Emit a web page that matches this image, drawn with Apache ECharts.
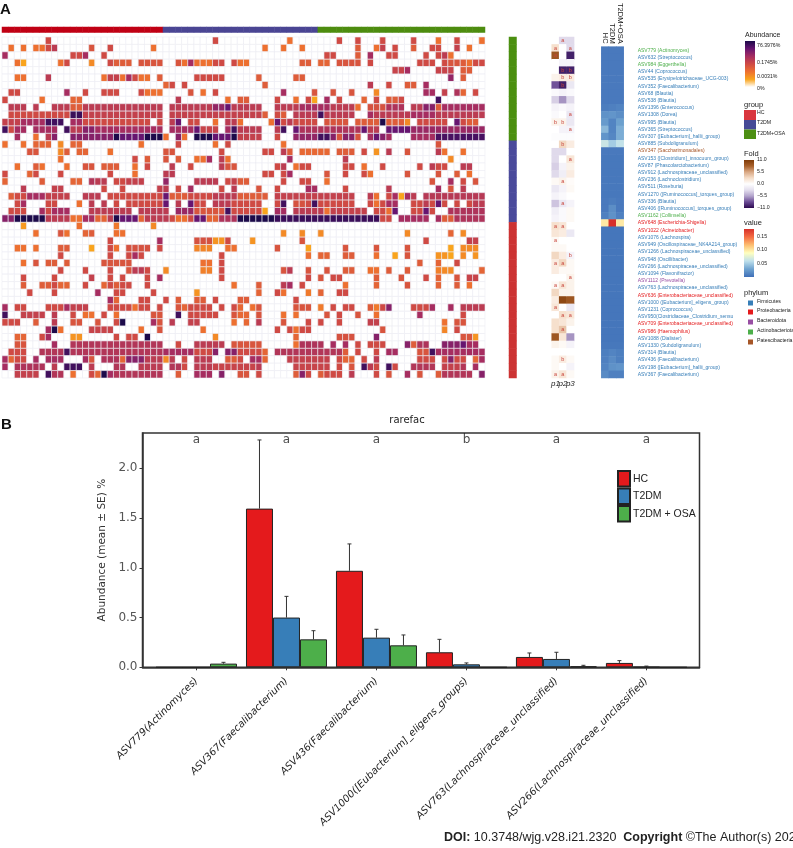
<!DOCTYPE html>
<html>
<head>
<meta charset="utf-8">
<style>
  html, body { margin: 0; padding: 0; background: #fff; }
  #chart { width: 793px; height: 848px; }
</style>
<script src="https://cdn.jsdelivr.net/npm/echarts@6/dist/echarts.min.js"></script>
</head>
<body>
<div id="chart"></div>
<script>
// panel A rows, top to bottom
const rowLabels = [
  "ASV779 (Actinomyces)", "ASV632 (Streptococcus)", "ASV984 (Eggerthella)", "ASV44 (Coprococcus)",
  "ASV535 (Erysipelotrichaceae_UCG-003)", "ASV352 (Faecalibacterium)", "ASV68 (Blautia)", "ASV538 (Blautia)",
  "ASV1396 (Enterococcus)", "ASV1308 (Dorea)", "ASV995 (Blautia)", "ASV365 (Streptococcus)",
  "ASV307 ([Eubacterium]_hallii_group)", "ASV885 (Subdoligranulum)", "ASV347 (Saccharimonadales)",
  "ASV153 ([Clostridium]_innocuum_group)", "ASV87 (Phascolarctobacterium)", "ASV912 (Lachnospiraceae_unclassified)",
  "ASV236 (Lachnoclostridium)", "ASV511 (Roseburia)", "ASV1270 ([Ruminococcus]_torques_group)", "ASV336 (Blautia)",
  "ASV406 ([Ruminococcus]_torques_group)", "ASV1162 (Collinsella)", "ASV648 (Escherichia-Shigella)",
  "ASV1022 (Acinetobacter)", "ASV1076 (Lachnospira)", "ASV949 (Oscillospiraceae_NK4A214_group)",
  "ASV1266 (Lachnospiraceae_unclassified)", "ASV948 (Oscillibacter)", "ASV266 (Lachnospiraceae_unclassified)",
  "ASV1094 (Flavonifractor)", "ASV1112 (Prevotella)", "ASV763 (Lachnospiraceae_unclassified)",
  "ASV636 (Enterobacteriaceae_unclassified)", "ASV1000 ([Eubacterium]_eligens_group)", "ASV1231 (Coprococcus)",
  "ASV950(Clostridiaceae_Clostridium_sensu", "ASV709 (Enterobacteriaceae_unclassified)", "ASV986 (Haemophilus)",
  "ASV1088 (Dialister)", "ASV1330 (Subdoligranulum)", "ASV314 (Blautia)", "ASV436 (Faecalibacterium)",
  "ASV198 ([Eubacterium]_hallii_group)", "ASV367 (Faecalibacterium)"
];
// index into phylumNames for each row
const rowPhylum = [3,0,3,0,0,0,0,0,0,0,0,0,0,0,4,0,0,0,0,0,0,0,0,3,1,1,0,0,0,0,0,0,2,0,1,0,0,0,1,1,0,0,0,0,0,0];
const phylumNames = ["Firmicutes", "Proteobacteria", "Bacteroidota", "Actinobacteriota", "Patescibacteria"];
const phylumColors = ["#377eb8", "#e41a1c", "#984ea3", "#4daf4a", "#a65628"];

const groupNames = ["HC", "T2DM", "T2DM+OSA"];
const columnGroupSizes = [26, 25, 27];
// side strip goes top to bottom: T2DM+OSA, T2DM, HC
const rowGroupSizes = [14, 11, 21];

// abundance per sample, "col:level" or "from-to:level", level 1 (low) .. 6 (high)
const abundanceRows = [
  "7:3 34:3 46:2 54:3 57:3 61:3 66:3 70:2 73:3 77:2",
  "1:2 3:2 5-6:2 7:3 8:3.5 14:2.7 17:3 24:2 42:2 45:2 48:2 57:2.5 60:2 61:3.3 63:3 66:2.5 69:3 70:3 73:3.3 75:2",
  "0:4 11-12:3 13:4 16:3 52-53:3 57:2.5 59:4 62-63:3 68:3 70:3 71:3.5 72:2",
  "2:2 3:1 9:2 10:3 14:1.5 17:3 18-20:2.5 22-25:2.7 28:2.7 29:2 30:4 31-33:2 34-35:3 37:3 38-39:2 48-49:2.5 51-52:2.3 54-57:2.7 59:3 67-69:3 71:3 72-73:2.7 74:2.5 75:2 76-77:3",
  "63-64:3.2 65:4 70-72:3.2 74-75:2.5",
  "2-3:2 7:3.5 16:2 17-18:3.3 19:2 20:4 21:3 22-23:2 25:2.5 31-35:3 41:2.5 47-48:2.5 72:4.3 74:2.5",
  "26:2.3 27:3 29:3 42:2.5 59:3.5 62:3 65-66:2.5 68:4",
  "1-2:3 10:4 13:3 16-18:3 22:3 23:2 24:2 25:2 30:2.7 32:2 34:3 45:4 50:2.7 53:2.7 56:2.7 60:1.5 68-69:4 71:3.3 73:3.8 74:2.3 76:3",
  "0:3 6:2 11-12:2.3 28:3.5 36:2 38-39:2.5 44:3 47:2 49:3 50:1 52:4 54:3 58:2.3 60:3 62-63:2.5 64:3 70:5.5",
  "1-3:3.5 5:3.5 8-10:3.5 11-12:2.5 13-25:3.5 27-33:3.5 34-35:4.3 36:5 37-41:3.5 44-47:3.5 48-52:4 53-56:3.5 57:2 59-61:2.8 62-64:3.8 66-67:3.5 68-69:4.5 70:2.5 71-77:4",
  "1-10:3 11-12:5.6 13-25:3.3 27-41:3.3 42:2.5 44:3 45:2.5 47-50:3.5 51:5.5 52-56:3.5 59:4 60-65:3.5 66-69:4 70-77:3.5",
  "0-2:3.3 3-6:4 7-9:5.5 11-12:4 13-23:3 25:3 27:3.5 28:5 30-31:3 34:2 36-37:3.5 38:2 43:2 44:5 45:3 46:3.5 47-50:3 52-55:2.7 57-60:2.5 61:6 62-64:2.5 65:1.5 67-71:3 73:5 74:3 75-76:2.5",
  "0:5.5 1:3 2-3:4 5-8:4 10:5.5 11-12:3.5 13-14:4.5 15-25:4 27-30:4 31:5 32-34:3.2 36:4 37:5.5 38-41:3.5 44:3.5 45:5.5 47:5 48-57:3.8 58:5 59-60:3.5 62-65:5 66-77:4.2",
  "2:4 5:2 7:3.5 8:4.5 11-17:4.5 18:6 19-22:5 23-25:6 26:2 28:4.5 29:2 31-33:6 34-36:5 37:6 38-41:3.3 44:3 47-50:4.3 51-52:5.5 53:4.5 54:2.7 55-56:4.5 57:2.7 59:4 60:5 61:4.5 62:4 66-69:4 70-77:5.4",
  "0:2 3:2 5-7:2.3 9:1.5 11-12:2.3 22:2 28:3 34:2 36:3 45:2 70:2.7",
  "4-5:2.7 9:1.5 10:2.5 12-13:2.3 17:2 26-27:2.7 35:3 42-43:3 45:3.5 46:2.5 48-52:2.2 54-56:2.5 58:3 60:1.3 62:3.5 65:2.7 70:3.5 71:2 74:2",
  "9:2 21:3 23:2.5 26:2.7 28:2.5 31-32:2 33:4 35:3.5 36:2 46:4 55:3.5 72:1.5",
  "2:2 5:2.5 6:2 10:2 13-14:2.7 16-18:2.5 21:2 23:3 27:3.5 30:3 35:3.5 36-37:2.7 44:3 45:3.5 47:2 48-49:3 55-56:3 58:2 61:3 67:3 69:3.5 70-71:3 74-75:3.5",
  "0:3 4:2.3 5:3 9:3 17:3 21:2 26-27:3.5 42-43:3 45:3 46:4 52:2.7 55:3 58:3 59:2 65:2.7 70:2.7 73:2.5 75:2",
  "0:2.3 6:2.5 11-12:2.3 14:3.7 15-16:3.5 18-19:3 20-22:3.3 26:4.3 31-34:3.5 36:3 37:3.3 38-39:2.5 45:3 48-49:3 52:2 69:2.7 72:4 74:3 76:2.7",
  "3:3.5 8-9:3.3 16:3 19:3 25:3.3 26:3.5 28:3 30:4 35:3 37:3.5 41:2.7 44:3 49-50:4 55:3 62:3.5 70:4 72:2.7 74:3.5",
  "1:2.5 2-3:3 4-6:4 7-10:3.3 13-15:3.5 17-25:3 26:5 27-29:2.5 30-33:3 34-37:3.5 38-42:2.5 44-56:3.3 59:3.5 60:2 62:3 63:4 64:1 65:4 66:3.5 68-77:3.6",
  "2:3 3:4 7-8:3 12:2 14:3.5 16:3.5 18:3 20-25:3 26:5 28:3.5 30:5 31-32:3 34-36:3.5 37-41:3 44:3 45:5.5 47-48:2.8 49:3 50:5.5 51-54:3 55-56:3 59:3 60:2 61:3 62-63:4 66-67:3 68:3.5 69:3 70:5 71:3 73:3 75:3 76-77:3.5",
  "1-3:3 6:4 7:3 8-10:4 14-20:3.5 22-26:3.5 28-30:4.2 31-35:2.7 36:5.5 37-41:3 42:1 44-45:4 47-51:3.5 52:2 53-58:3.3 60-61:3 62:2 63:5 66-67:3 68:5 69:3 72-77:3.8",
  "0-1:4.5 2-6:6 7-10:3.5 11-12:2 13-14:4 15-16:2.3 17:3.5 18:6 19-21:5 22:2.3 23-26:3.5 27:3 28-29:2 30:3 31-32:5 33-34:2.3 35-37:3.8 38-43:6 44-60:5.6 61-62:3 64-68:4 70:4 71-72:2.5 73-77:3.8",
  "3:1.2 12:2 18:1.8 24:1.5",
  "5:2 9:2.7 10:2 13:2.3 14:2.5 18-19:2 45:1.5 48:1.5 51:1.5 65:1.5 72:2.3 74:1.5",
  "17:3 25:4 31-33:2.8 34-35:1.3 36:3 40:1.3 48:2.7 68:3 75-76:3.3",
  "2-3:2 5:2 9-10:2.5 14:1 17:3 18:2 20-23:2.8 25:3 31-33:1.6 36-37:2 44:2.7 49:1 55:2.7 60:2.7 65:2.7 72:1 74-75:1.5 76:1.5",
  "9:3 17:3 20:3 21:4 22:3 35:3 49:2 51-52:2.3 55-56:2.5 60:2 63:1 65:2.7 70-71:1.3 72:1 74:1.5 76:1.3",
  "3:2 5:2.7 7-8:2.5 10:2.5 16-20:2.7 32-33:2 35:3 67:2.5 70:2.3 73:3",
  "9:3 13:3 17:3 20:2.7 21-22:3.5 23:3 26:1.5 32-33:1.7 35:3 45:2.7 46:3.5 49:2.7 52:2.7 55-56:2.5 59-60:2 62:2.5 65:2.5 70:1.7 71-72:1.5 77:2.3",
  "3:3 8:3 14:3.3 17:3 19:3 23:3 25:4 35:3 49:3 51:2.7 53-54:3 60:2.5 64:2.7 68:3 70:2.3 73:2.7 75-76:3.2",
  "3:2.5 6-7:2.5 8:3 9-10:2.3 13:3 16:2.3 17:3 18:2.5 19-20:3 23:3 37:2 41:2.5 45:3.5 46:4 48:3 55:2 60:2.3 65:2.7 70:2.3 73:2.5 75:2",
  "4:3 8:3 15:4 18-19:3 24:3 31:1.3 41:2.3 44:3 45:2 49:1.8 51:2.3 54-55:3",
  "17:4 18:2.3 22-23:3 26:3 28:2.5 31-32:2.5 34:3 38-39:2.5 47:3",
  "0:4 2-3:3 7-9:3 10:4 11-13:3.3 17-20:3 21:2 22-23:3 25:3 28:2.7 29:2.3 30-33:3 35:3 37:3 38:2.2 40:2 41:2.7 47-49:2.7 51:1.8 53:3 55-56:3 59:2.5 60:1.8 61:3 62:4.5 66-68:3 69:4 72:4 74-77:3.5",
  "0:5.5 3-6:3.3 8:3.5 11:3 13-14:2 16:3 18:2 24-25:2.7 28:5.5 30-34:3 37:2.7 38-39:2.2 41:2.7 45:2 47:2 52:2.7 54:3 57:2.7 60:2 67:4 74:3",
  "0-2:3 5:2.5 8:3.5 11-12:2.7 15:2.7 18:3 19:6 24:4 25:2.7 27:3.5 30-31:3.3 37:2 39:2.2 41:3.5 45:2.7 49:3 51:3 54:3 59-60:3.3 71:2 73-74:2.7",
  "7:4 8:6 9:2 14-17:3.2 22:2 25:2.7 32:2 44:3 46:3 47:2 48-49:3 61:2.7 71:1.6 73:3",
  "2-3:2.3 6:3 7:4 11-12:1.3 18:3 20-21:3 23:6 34:1.5 47:2.3 54-56:2.8 60:4.5 74-75:2.7 76:1.3",
  "2-3:2.7 8:4 11-25:3.7 28:3 31-35:3.5 37-41:2.7 47:2 48-51:3.8 53:4 55:4 57:3 59-61:3 65:4.5 66:2.5 67-68:3.8 71-73:4.5 74:5 75-76:4",
  "1-3:3 6-9:3.7 10:5.5 11-25:3.7 26-30:4 31-33:3 34:4.5 36-37:4.5 38-41:3 42:2.3 44-53:3.7 54:3.7 55:2.5 57:3 60:3 62-63:4 67-68:2.7 69:5.5 70-77:4",
  "0:4 1:2.3 2-3:3 5:4 7-9:4 13:4 14:2.7 16-18:3.8 19:2.3 20-22:4.5 23-25:3.5 26:1.5 27:3.5 29:3 31-33:3.5 36-37:2.5 38:3 40-41:4 42:2.3 46-52:3.3 54:3 55-56:2.3 58:3 60:3.5 67-69:3 71:3 72:4.5 73-74:3 76:2.3 77:4",
  "0:4 2-6:3.8 8:3.5 10-12:5.5 14:3.5 18-19:3.7 22-25:3.5 27-28:3.7 29:3 31-33:3.5 34-40:3.2 41:3.5 47-52:3.2 54:3 56:2.7 58:5.5 59:3.5 60:3 62:5.5 63:3 66-69:3.7 71-73:3.3 74:3.7 76:4",
  "2-5:3.3 7:5.5 8-9:3.7 11:2 14:3 15:2.3 16:6 17:4 18-25:3.7 28:2.5 31-33:4 35:4.5 38-39:2.7 41:3 47:2.5 48:4.5 49:3 51:2.5 52-53:3 54:3 56:3.5 60:3 62:2.7 65:4 67:2.7 70:2.5 71-75:3.7 77:4.5"
];

// fold change of the three pair tests, read per row
const foldP1 = [0,2.5,9,0,0,1,-8,-0.5,-3.5,-1,-0.5,1,0,-0.3,0,-3,-3,-3.5,-3,0.5,-2,-1,-4,-1.5,-1,2.5,2,0.5,0.5,3,1.5,1.5,0,0.5,3,1.5,2,0,2.5,2.5,9,1,0,0.5,0.5,1];
const foldP2 = [-3,0,0,-1,-10,1.5,-10,-1,-6,-0.5,0,1,-1,-0.3,3,-3,0,-1,-1.5,1,-1,-0.5,-2,-0.5,-0.5,2,1.5,0,0.5,1.5,3,0.5,0,2,1,10,0,2.5,2,4,2,0.5,0,1.5,0,2];
const foldP3 = [-3,-3,-10,-1,-10,1.5,-2,-0.5,-3,-1,-2,-2,-1,-0.3,1.5,0,2,1,1.5,0.3,0.5,0,-1,0.5,0.5,0,-2,0,0,-1,0.5,0.5,1,1,1,9,-2,2,1,0,-6,-1,0,0.5,-1,0.5];
const foldLettersP1 = {1:"a",2:"a",11:"b",25:"a",27:"a",30:"a",33:"a",36:"a",45:"a"};
const foldLettersP2 = {0:"a",4:"b",5:"b",6:"b",11:"b",14:"b",19:"a",22:"a",25:"a",30:"a",33:"a",37:"a",39:"a",43:"b",45:"a"};
const foldLettersP3 = {1:"a",4:"b",5:"b",10:"a",12:"a",16:"a",29:"b",32:"a",37:"a"};

// mean values per group
const valueHC = [.006,.006,.006,.006,.006,.006,.006,.006,.008,.02,.025,.04,.022,.065,.006,.005,.005,.005,.005,.005,.005,.006,.006,.01,.1,.004,.004,.004,.004,.004,.004,.004,.004,.004,.004,.004,.004,.004,.004,.004,.004,.005,.009,.01,.012,.016];
const valueT2DM = [.006,.006,.006,.006,.006,.006,.006,.006,.01,.022,.012,.012,.014,.05,.006,.005,.005,.005,.005,.005,.005,.008,.018,.02,.18,.004,.004,.004,.004,.004,.004,.004,.004,.004,.004,.004,.004,.004,.004,.004,.004,.005,.012,.016,.02,.01];
const valueOSA = [.006,.006,.006,.006,.006,.006,.006,.006,.012,.018,.028,.035,.035,.062,.006,.005,.005,.005,.005,.005,.005,.006,.006,.01,.1,.004,.004,.004,.004,.004,.004,.004,.004,.004,.004,.004,.004,.004,.004,.004,.004,.005,.009,.009,.022,.01];
const valueColumns = ["HC", "T2DM", "T2DM+OSA"];

// panel B
const barCategories = [
  "ASV779(Actinomyces)", "ASV367(Faecalibacterium)", "ASV436(Faecalibacterium)",
  "ASV1000([Eubacterium]_eligens_groups)", "ASV763(Lachnospiraceae_unclassified)", "ASV266(Lachnospiraceae_unclassified)"
];
const barLetters = ["a", "a", "a", "b", "a", "a"];
const meanHC = [0, 1.595, 0.97, 0.151, 0.104, 0.044];
const meanT2DM = [0, 0.5, 0.298, 0.03, 0.084, 0.004];
const meanOSA = [0.037, 0.281, 0.221, 0, 0.01, 0];
const errTopHC = [0, 2.285, 1.24, 0.281, 0.144, 0.067];
const errTopT2DM = [0, 0.713, 0.382, 0.044, 0.151, 0.012];
const errTopOSA = [0.05, 0.368, 0.325, 0, 0.02, 0];

const abundanceColors = ["#ffffff", "#f9a41c", "#ed7030", "#cf4a44", "#a62d60", "#661570", "#1c0a4a"];
const foldColors = ["#2d0a50", "#6a4a94", "#b3a4cc", "#e4dfee", "#ffffff", "#f5ddc8", "#d9a884", "#a8602a", "#7f3b08"];
const valueColors = ["#3f6fb8", "#6fa3d0", "#bfe0ec", "#ffffbf", "#fdbe70", "#f46d43", "#d7302a"];

const smallFont = "Liberation Sans";
const chartFont = "DejaVu Sans";

function range(n) {
  const arr = [];
  for (let i = 0; i < n; i++) arr.push(i);
  return arr;
}

// "5-7:3 9:2" -> [[5,3],[6,3],[7,3],[9,2]]
function parseRow(text) {
  const cells = [];
  text.split(" ").forEach((tok) => {
    const [cols, level] = tok.split(":");
    const [from, to] = cols.split("-").map(Number);
    for (let c = from; c <= (to === undefined ? from : to); c++) cells.push([c, Number(level)]);
  });
  return cells;
}

const colCount = columnGroupSizes.reduce((a, b) => a + b, 0);
const abundanceData = [];
abundanceRows.forEach((text, r) => {
  const levels = new Array(colCount).fill(0);
  parseRow(text).forEach(([c, l]) => { levels[c] = l; });
  levels.forEach((l, c) => abundanceData.push([c, r, l]));
});

const topStripData = [];
columnGroupSizes.forEach((size, g) => {
  for (let i = 0; i < size; i++) topStripData.push([topStripData.length, 0, g]);
});
const sideStripData = [];
rowGroupSizes.forEach((size, g) => {
  for (let i = 0; i < size; i++) sideStripData.push([0, sideStripData.length, 2 - g]);
});

const foldData = [];
[[foldP1, foldLettersP1], [foldP2, foldLettersP2], [foldP3, foldLettersP3]].forEach(([vals, letters], c) => {
  vals.forEach((v, r) => foldData.push({ value: [c, r, v], letter: letters[r] || "" }));
});

const valueData = [];
[valueHC, valueT2DM, valueOSA].forEach((vals, c) => {
  vals.forEach((v, r) => valueData.push([c, r, v]));
});

const heatTop = 37;
const heatHeight = 341;
const grids = [
  { left: 2, top: 27, width: 483, height: 5.5 },
  { left: 2, top: heatTop, width: 483, height: heatHeight },
  { left: 509, top: heatTop, width: 7.5, height: heatHeight },
  { left: 551.7, top: heatTop, width: 22.4, height: heatHeight },
  { left: 601.3, top: heatTop, width: 22.4, height: heatHeight },
  { left: 142.5, top: 433, width: 557, height: 234.3, show: true, borderColor: "#333", borderWidth: 1.5 }
];

function hiddenCat(gridIndex, data, inverse) {
  return {
    type: "category", gridIndex, data, inverse: !!inverse,
    axisLine: { show: false, onZero: false }, axisTick: { show: false }, axisLabel: { show: false }, splitLine: { show: false }
  };
}

const xAxes = [
  hiddenCat(0, range(colCount)),
  hiddenCat(1, range(colCount)),
  hiddenCat(2, ["g"]),
  Object.assign(hiddenCat(3, ["p1", "p2", "p3"]), {
    axisLabel: { show: true, interval: 0, margin: 2, fontSize: 8, fontStyle: "italic", color: "#222", fontFamily: smallFont }
  }),
  Object.assign(hiddenCat(4, valueColumns), {
    position: "top",
    axisLabel: { show: true, interval: 0, rotate: 90, margin: 3, fontSize: 7.5, color: "#222", fontFamily: smallFont }
  }),
  {
    type: "value", gridIndex: 5, min: -0.6, max: 5.59,
    splitLine: { show: false },
    axisLine: { onZero: false, lineStyle: { color: "#333", width: 1.5 } },
    axisTick: { customValues: [0, 1, 2, 3, 4, 5], length: 3, lineStyle: { color: "#333" } },
    axisLabel: {
      customValues: [0, 1, 2, 3, 4, 5], rotate: 45, margin: 12, fontSize: 10, fontStyle: "italic",
      color: "#222", fontFamily: chartFont, formatter: (v) => barCategories[v]
    }
  }
];

const yAxes = [
  hiddenCat(0, ["g"]),
  hiddenCat(1, rowLabels, true),
  hiddenCat(2, rowLabels, true),
  hiddenCat(3, rowLabels, true),
  Object.assign(hiddenCat(4, rowLabels, true), {
    position: "right",
    axisLabel: {
      show: true, interval: 0, margin: 14, fontSize: 5, fontFamily: smallFont, align: "left",
      color: (v, i) => phylumColors[rowPhylum[i]]
    }
  }),
  {
    type: "value", gridIndex: 5, min: 0, max: 2.355,
    name: "Abundance (mean ± SE) %", nameLocation: "middle", nameGap: 35,
    nameTextStyle: { fontSize: 10.5, color: "#333", fontFamily: chartFont },
    splitLine: { show: false },
    axisLine: { show: true, onZero: false, lineStyle: { color: "#333", width: 1.5 } },
    axisTick: { customValues: [0, 0.5, 1, 1.5, 2], length: 3, lineStyle: { color: "#333" } },
    axisLabel: {
      customValues: [0, 0.5, 1, 1.5, 2], margin: 5, fontSize: 12, color: "#555", fontFamily: chartFont,
      formatter: (v) => v.toFixed(1)
    }
  }
];

function heat(name, gridIndex, data, extra) {
  return Object.assign({
    name, type: "heatmap", xAxisIndex: gridIndex, yAxisIndex: gridIndex, data,
    emphasis: { disabled: true }, progressive: 0, animation: false
  }, extra || {});
}

const barW = 27;
function barSeries(name, means, color) {
  return {
    name, type: "bar", xAxisIndex: 5, yAxisIndex: 5, barWidth: barW, barGap: 0,
    data: means.map((v, i) => [i, v]),
    itemStyle: { color, borderColor: "#222", borderWidth: 1 }, z: 3
  };
}
function errSeries(means, tops, offset) {
  return {
    type: "custom", xAxisIndex: 5, yAxisIndex: 5, z: 2, silent: true,
    data: means.map((v, i) => [i, v, tops[i]]),
    renderItem: (params, api) => {
      if (api.value(2) <= 0) return null;
      const low = api.coord([api.value(0), api.value(1)]);
      const high = api.coord([api.value(0), api.value(2)]);
      const x = low[0] + offset;
      const style = { stroke: "#333", lineWidth: 1 };
      return {
        type: "group",
        children: [
          { type: "line", shape: { x1: x, y1: low[1], x2: x, y2: high[1] }, style },
          { type: "line", shape: { x1: x - 2, y1: high[1], x2: x + 2, y2: high[1] }, style }
        ]
      };
    }
  };
}

const series = [
  heat("top strip", 0, topStripData),
  {
    name: "abundance", type: "custom", xAxisIndex: 1, yAxisIndex: 1, silent: true, animation: false,
    progressive: 0, encode: { x: 0, y: 1 }, data: abundanceData,
    renderItem: (params, api) => {
      const pos = api.coord([api.value(0), api.value(1)]);
      const size = api.size([1, 1]);
      return {
        type: "rect",
        shape: { x: pos[0] - size[0] / 2, y: pos[1] - size[1] / 2, width: size[0], height: size[1] },
        style: { fill: api.visual("color"), stroke: "#ecedf3", lineWidth: 0.6 }
      };
    }
  },
  heat("side strip", 2, sideStripData),
  heat("fold", 3, foldData, {
    label: {
      show: true, fontSize: 5.5, color: "#c8453c", fontFamily: smallFont,
      formatter: (p) => p.data.letter
    }
  }),
  heat("value", 4, valueData),
  barSeries("HC", meanHC, "#e41a1c"),
  barSeries("T2DM", meanT2DM, "#377eb8"),
  barSeries("T2DM + OSA", meanOSA, "#4daf4a"),
  errSeries(meanHC, errTopHC, -barW),
  errSeries(meanT2DM, errTopT2DM, 0),
  errSeries(meanOSA, errTopOSA, barW),
  {
    type: "scatter", xAxisIndex: 5, yAxisIndex: 5, symbolSize: 0, silent: true,
    data: barLetters.map((l, i) => ({ value: [i, 2.29], letter: l })),
    label: {
      show: true, position: "inside", fontSize: 12, color: "#222", fontFamily: chartFont,
      formatter: (p) => p.data.letter
    }
  }
];

const visualMaps = [
  {
    type: "piecewise", show: false, seriesIndex: 0, dimension: 2,
    pieces: [{ value: 0, color: "#c00014" }, { value: 1, color: "#4a4593" }, { value: 2, color: "#4d8c0f" }]
  },
  {
    type: "piecewise", show: false, seriesIndex: 2, dimension: 2,
    pieces: [{ value: 0, color: "#cc3333" }, { value: 1, color: "#4a4a9b" }, { value: 2, color: "#4b8f10" }]
  },
  { type: "continuous", show: false, seriesIndex: 1, dimension: 2, min: 0, max: 6, inRange: { color: abundanceColors } },
  { type: "continuous", show: false, seriesIndex: 3, dimension: 2, min: -11, max: 11, inRange: { color: foldColors } },
  { type: "continuous", show: false, seriesIndex: 4, dimension: 2, min: 0, max: 0.18, inRange: { color: valueColors } }
];

function legendText(x, y, text, size, extra) {
  return {
    type: "text", x, y, silent: true,
    style: Object.assign({
      text, fontSize: size || 5.2, fontFamily: smallFont, fill: "#222", verticalAlign: "middle"
    }, extra || {})
  };
}
function swatch(x, y, w, h, fill) {
  return { type: "rect", silent: true, shape: { x, y, width: w, height: h }, style: { fill } };
}
// colour bar, colours listed bottom to top
function colorBar(x, y, w, h, colors) {
  const stops = colors.map((color, i) => ({ offset: 1 - i / (colors.length - 1), color }));
  return swatch(x, y, w, h, new echarts.graphic.LinearGradient(0, 0, 0, 1, stops.reverse()));
}

const graphics = [
  legendText(0, 10, "A", 15, { fontWeight: "bold", fill: "#111" }),
  legendText(1, 425, "B", 15, { fontWeight: "bold", fill: "#111" }),
  legendText(745, 35, "Abundance", 7),
  colorBar(745, 41, 10, 46, abundanceColors),
  legendText(757, 46, "76.3976%"),
  legendText(757, 63, "0.1745%"),
  legendText(757, 77, "0.0031%"),
  legendText(757, 89, "0%"),
  legendText(744, 105, "group", 7.5),
  legendText(744, 154, "Fold", 7.5),
  colorBar(744, 160, 10, 48, foldColors),
  legendText(757, 160, "11.0"),
  legendText(757, 172, "5.5"),
  legendText(757, 184, "0.0"),
  legendText(757, 196, "−5.5"),
  legendText(757, 208, "−11.0"),
  legendText(744, 223, "value", 7.5),
  colorBar(744, 229, 10, 48, valueColors),
  legendText(757, 237, "0.15"),
  legendText(757, 250, "0.10"),
  legendText(757, 264, "0.05"),
  legendText(744, 293, "phylum", 7.5),
  swatch(744, 110, 12, 10, "#d9363e"),
  swatch(744, 120, 12, 9.5, "#464a96"),
  swatch(744, 129.5, 12, 9.5, "#4d8f14"),
  legendText(757, 113, groupNames[0]),
  legendText(757, 123, groupNames[1]),
  legendText(757, 134, groupNames[2]),
  {
    type: "text", x: 444, y: 838, silent: true,
    style: {
      fontSize: 12.5, fontFamily: smallFont, verticalAlign: "middle", fill: "#222",
      rich: { b: { fontWeight: "bold", fontSize: 12.5, fontFamily: smallFont } },
      text: "{b|DOI:} 10.3748/wjg.v28.i21.2320  {b|Copyright} ©The Author(s) 2022."
    }
  }
];
phylumNames.forEach((name, i) => {
  const y = [303, 312, 322, 332, 342][i];
  graphics.push(swatch(748, y - 2.5, 5, 5, phylumColors[i]));
  graphics.push(legendText(757, y - 1, name));
});

const chart = echarts.init(document.getElementById("chart"), null, { renderer: "canvas" });
chart.setOption({
  animation: false,
  title: {
    text: "rarefac", left: 407, top: 415, textAlign: "center", padding: 0,
    textStyle: { fontSize: 10, fontWeight: "normal", color: "#222", fontFamily: chartFont }
  },
  legend: {
    data: ["HC", "T2DM", "T2DM + OSA"], orient: "vertical", left: 617, top: 470,
    itemWidth: 12, itemHeight: 15.5, itemGap: 0, padding: 0, icon: "rect", selectedMode: false,
    textStyle: { fontSize: 10.5, color: "#222", fontFamily: smallFont, padding: [0, 0, 0, -2] }
  },
  grid: grids,
  xAxis: xAxes,
  yAxis: yAxes,
  visualMap: visualMaps,
  series,
  graphic: graphics
});
</script>
</body>
</html>
